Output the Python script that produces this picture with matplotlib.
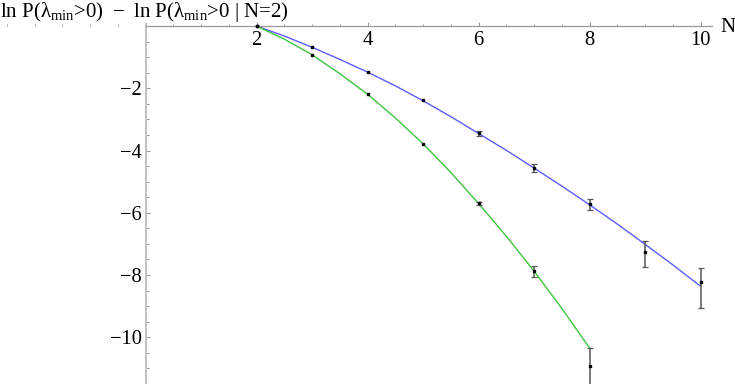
import matplotlib
matplotlib.use("Agg")
import matplotlib.pyplot as plt
from matplotlib.ticker import MultipleLocator

plt.rcParams['font.family'] = ['Liberation Serif', 'DejaVu Serif']
plt.rcParams['mathtext.fontset'] = 'custom'
plt.rcParams['mathtext.rm'] = 'Liberation Serif'
plt.rcParams['mathtext.it'] = 'Liberation Serif:italic'

# ---- data ----
# measured points (series 1, fitted by blue curve)
n_blue = [2, 3, 4, 5, 6, 7, 8, 9, 10]
v_blue = [0.0, -0.685, -1.48, -2.39, -3.45, -4.56, -5.72, -7.25, -8.21]
err_blue_lo = [0.0, 0.0, 0.0, 0.0, 0.07, 0.12, 0.20, 0.48, 0.86]
err_blue_hi = [0.0, 0.0, 0.0, 0.0, 0.07, 0.12, 0.16, 0.33, 0.45]

# measured points (series 2, fitted by green curve)
n_green = [2, 3, 4, 5, 6, 7, 8]
v_green = [0.0, -0.92, -2.19, -3.78, -5.70, -7.87, -10.91]
err_green_lo = [0.0, 0.0, 0.0, 0.0, 0.05, 0.18, 0.90]
err_green_hi = [0.0, 0.0, 0.0, 0.0, 0.05, 0.16, 0.57]

# fit curves
fit_blue_x = [2, 2.5, 3, 3.5, 4, 4.5, 5, 5.5, 6, 6.5, 7, 7.5, 8, 8.5, 9, 9.5, 10]
fit_blue_y = [0.0, -0.32, -0.68, -1.07, -1.48, -1.92, -2.40, -2.91, -3.45,
              -3.99, -4.56, -5.14, -5.74, -6.36, -7.01, -7.67, -8.36]
fit_green_x = [2, 2.5, 3, 3.5, 4, 4.5, 5, 5.5, 6, 6.5, 7, 7.5, 8]
fit_green_y = [0.0, -0.42, -0.92, -1.53, -2.19, -2.95, -3.78, -4.70, -5.70,
               -6.75, -7.87, -9.07, -10.34]

x_ticks = [2, 4, 6, 8, 10]
y_ticks = [-2, -4, -6, -8, -10]

title = ('ln P(λ$_\\mathregular{min}$>0) \u2009\u2212\u2009 '
         'ln P(λ$_\\mathregular{min}$>0 | N=2)')

# ---- figure ----
W, H = 735, 384
fig = plt.figure(figsize=(W / 100, H / 100), dpi=100)
ax = fig.add_axes([0, 0, 1, 1])
ax.patch.set_visible(False)

x0_px, xs = 145.5, 55.5
y0_px, ys = 26.05, 31.125
ax.set_xlim(-x0_px / xs, (W - x0_px) / xs)
ax.set_ylim(-(H - y0_px) / ys, y0_px / ys)

ax.plot(fit_blue_x, fit_blue_y, color='#5c5cff', lw=1.0, zorder=2)
ax.plot(fit_green_x, fit_green_y, color='#3ec43e', lw=1.0, zorder=2)

for xs_, vs_, lo, hi in [(n_blue, v_blue, err_blue_lo, err_blue_hi),
                          (n_green, v_green, err_green_lo, err_green_hi)]:
    idx = [i for i in range(len(xs_)) if lo[i] + hi[i] > 0]
    ax.errorbar([xs_[i] for i in idx], [vs_[i] for i in idx],
                yerr=[[lo[i] for i in idx], [hi[i] for i in idx]],
                fmt='none', ecolor='#555555',
                elinewidth=1.1, capsize=2.2, capthick=0.9, zorder=3)
    ax.plot(xs_, vs_, 's', color='black', markersize=2.0, zorder=4)

# Mathematica-style axes crossing at origin
for s in ['top', 'right']:
    ax.spines[s].set_visible(False)
ax.spines['left'].set_position(('data', 0))
ax.spines['bottom'].set_position(('data', 0))
ax.spines['left'].set_bounds(-(H - y0_px) / ys, 0.08)
ax.spines['bottom'].set_bounds(0, 10.2)
ax.spines['left'].set_color('#c0c0c0')
ax.spines['left'].set_linewidth(1.4)
ax.spines['bottom'].set_color('#999999')
ax.spines['bottom'].set_linewidth(0.9)

ax.set_xticks(x_ticks)
ax.set_xticklabels([str(t) for t in x_ticks])
ax.set_yticks(y_ticks)
ax.set_yticklabels(['\u2212' + str(-t) for t in y_ticks])
ax.xaxis.set_minor_locator(MultipleLocator(0.5))
ax.yaxis.set_minor_locator(MultipleLocator(0.5))

ax.tick_params(axis='both', which='major', direction='in', length=3.0,
               width=0.8, color='#999999', labelsize=14.8, labelcolor='black')
ax.tick_params(axis='both', which='minor', direction='in', length=1.8,
               width=0.7, color='#999999')
ax.tick_params(axis='x', which='major', pad=3.5)
ax.tick_params(axis='y', which='major', pad=2.5)

fig.text(0.0, 1 - 17 / H, title, fontsize=15, ha='left', va='baseline')
fig.text(720 / W, 1 - 31.5 / H, 'N', fontsize=15, ha='left', va='baseline')

fig.savefig('out.png', dpi=100)
